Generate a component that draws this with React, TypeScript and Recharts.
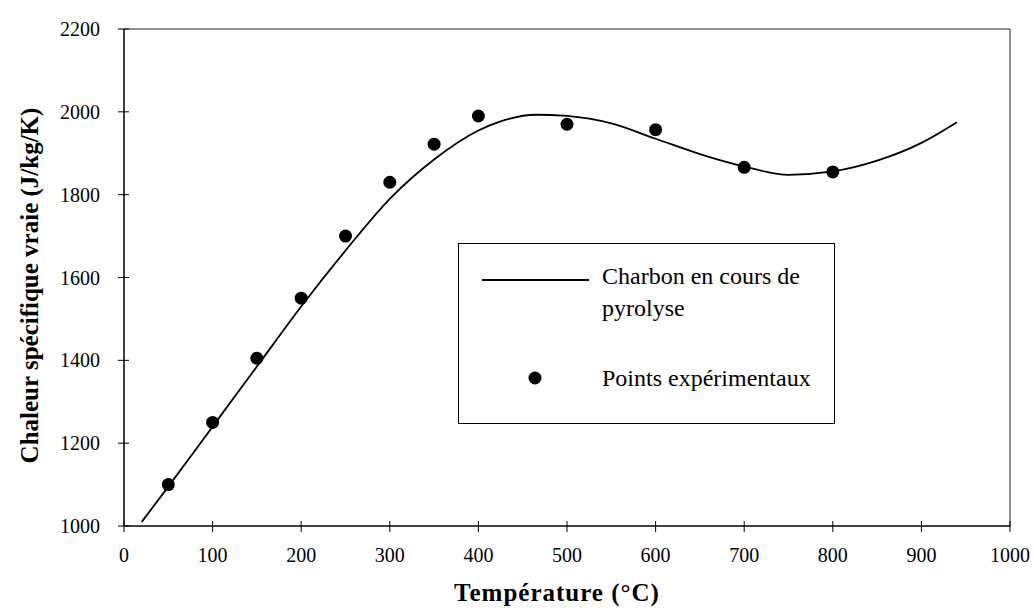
import React from "react";
import {
  ComposedChart,
  Line,
  Scatter,
  XAxis,
  YAxis,
  Legend,
  ReferenceLine,
  Label,
} from "recharts";

// fitted curve (temperature °C, Cp J/kg/K)
const curveTemps = [20, 50, 100, 150, 200, 250, 300, 350, 400, 425, 465, 500, 550, 600, 650, 700, 750, 800, 850, 900, 940];
const curveCp = [1010, 1095, 1240, 1385, 1530, 1665, 1790, 1885, 1955, 1977, 1993, 1990, 1972, 1935, 1898, 1868, 1848, 1856, 1882, 1925, 1975];

// measured points
const pointTemps = [50, 100, 150, 200, 250, 300, 350, 400, 500, 600, 700, 800];
const pointCp = [1100, 1250, 1405, 1550, 1700, 1830, 1922, 1990, 1970, 1957, 1866, 1855];

const xTicks = [0, 100, 200, 300, 400, 500, 600, 700, 800, 900, 1000];
const yTicks = [1000, 1200, 1400, 1600, 1800, 2000, 2200];

const curveName = "Charbon en cours de pyrolyse";
const pointsName = "Points expérimentaux";
const xTitle = "Température (°C)";
const yTitle = "Chaleur spécifique vraie (J/kg/K)";

const curveData = curveTemps.map((t, i) => ({ t, cp: curveCp[i] }));
const pointData = pointTemps.map((t, i) => ({ t, cp: pointCp[i] }));

const FONT = '"Liberation Serif", "Times New Roman", serif';

const XTick = (props: any) => {
  const { x, y, payload } = props;
  return (
    <g>
      <line x1={x} x2={x} y1={y - 6} y2={y - 11} stroke="#000" />
      <text x={x} y={y + 23} textAnchor="middle" dominantBaseline="central" fontSize={20} fontFamily={FONT} fill="#000">
        {payload.value}
      </text>
    </g>
  );
};

const YTick = (props: any) => {
  const { x, y, payload } = props;
  return (
    <g>
      <line x1={x + 6} x2={x + 11} y1={y} y2={y} stroke="#000" />
      <text x={x - 18} y={y} textAnchor="end" dominantBaseline="central" fontSize={20} fontFamily={FONT} fill="#000">
        {payload.value}
      </text>
    </g>
  );
};

const LegendBox = (props: any) => {
  const items = props.payload || [];
  return (
    <div
      style={{
        position: "relative",
        width: 377,
        height: 181,
        border: "1px solid #000",
        boxSizing: "border-box",
        background: "#fff",
        fontFamily: FONT,
        fontSize: 24,
        color: "#000",
      }}
    >
      {items.map((it: any, i: number) => {
        const top = i === 0 ? 16 : 118;
        return (
          <React.Fragment key={i}>
            <svg style={{ position: "absolute", left: 0, top: 0 }} width={377} height={181}>
              {it.type === "line" ? (
                <line x1={23} x2={130} y1={36} y2={36} stroke="#000" strokeWidth={1.8} />
              ) : (
                <circle cx={76} cy={134} r={6.5} fill="#000" />
              )}
            </svg>
            <div style={{ position: "absolute", left: 143, top, width: 222, lineHeight: "32px" }}>{it.value}</div>
          </React.Fragment>
        );
      })}
    </div>
  );
};

export default function App() {
  return (
    <div style={{ position: "absolute", left: 0, top: 0, width: 1034, height: 608, background: "#fff" }}>
      <ComposedChart width={1034} height={608} margin={{ top: 29, right: 24, bottom: 0, left: 0 }}>
        <XAxis
          dataKey="t"
          type="number"
          domain={[0, 1000]}
          ticks={xTicks}
          tickSize={6}
          tickMargin={0}
          height={82}
          tick={<XTick />}
          axisLine={{ stroke: "#000", strokeWidth: 1.5 }}
          tickLine={{ stroke: "#000" }}
        >
          <Label
            content={(p: any) => {
              const vb = p.viewBox;
              return (
                <text
                  x={vb.x + vb.width / 2 - 10}
                  y={vb.y + 66}
                  textAnchor="middle"
                  dominantBaseline="central"
                  fontSize={25}
                  fontWeight="bold"
                  letterSpacing={1}
                  fontFamily={FONT}
                  fill="#000"
                >
                  {xTitle}
                </text>
              );
            }}
          />
        </XAxis>
        <YAxis
          type="number"
          domain={[1000, 2200]}
          ticks={yTicks}
          tickSize={6}
          tickMargin={0}
          width={124}
          tick={<YTick />}
          axisLine={{ stroke: "#000", strokeWidth: 1.5 }}
          tickLine={{ stroke: "#000" }}
        >
          <Label
            content={(p: any) => {
              const vb = p.viewBox;
              const cx = vb.x + 29;
              const cy = vb.y + vb.height / 2 + 8;
              return (
                <text
                  x={cx}
                  y={cy}
                  transform={`rotate(-90, ${cx}, ${cy})`}
                  textAnchor="middle"
                  dominantBaseline="central"
                  fontSize={25}
                  fontWeight="bold"
                  fontFamily={FONT}
                  fill="#000"
                >
                  {yTitle}
                </text>
              );
            }}
          />
        </YAxis>
        <ReferenceLine y={2200} stroke="#222" strokeWidth={1} />
        <ReferenceLine x={1000} stroke="#222" strokeWidth={1} />
        <Legend
          layout="horizontal"
          verticalAlign="middle"
          align="center"
          content={<LegendBox />}
          wrapperStyle={{ left: 458, top: 243, width: 377, height: 181 }}
        />
        <Line
          data={curveData}
          dataKey="cp"
          name={curveName}
          type="monotone"
          stroke="#000"
          strokeWidth={1.8}
          dot={false}
          legendType="line"
          isAnimationActive={false}
        />
        <Scatter
          data={pointData}
          dataKey="cp"
          name={pointsName}
          fill="#000"
          legendType="circle"
          shape={(p: any) => <circle cx={p.cx} cy={p.cy} r={6.5} fill="#000" />}
          isAnimationActive={false}
        />
      </ComposedChart>
    </div>
  );
}
